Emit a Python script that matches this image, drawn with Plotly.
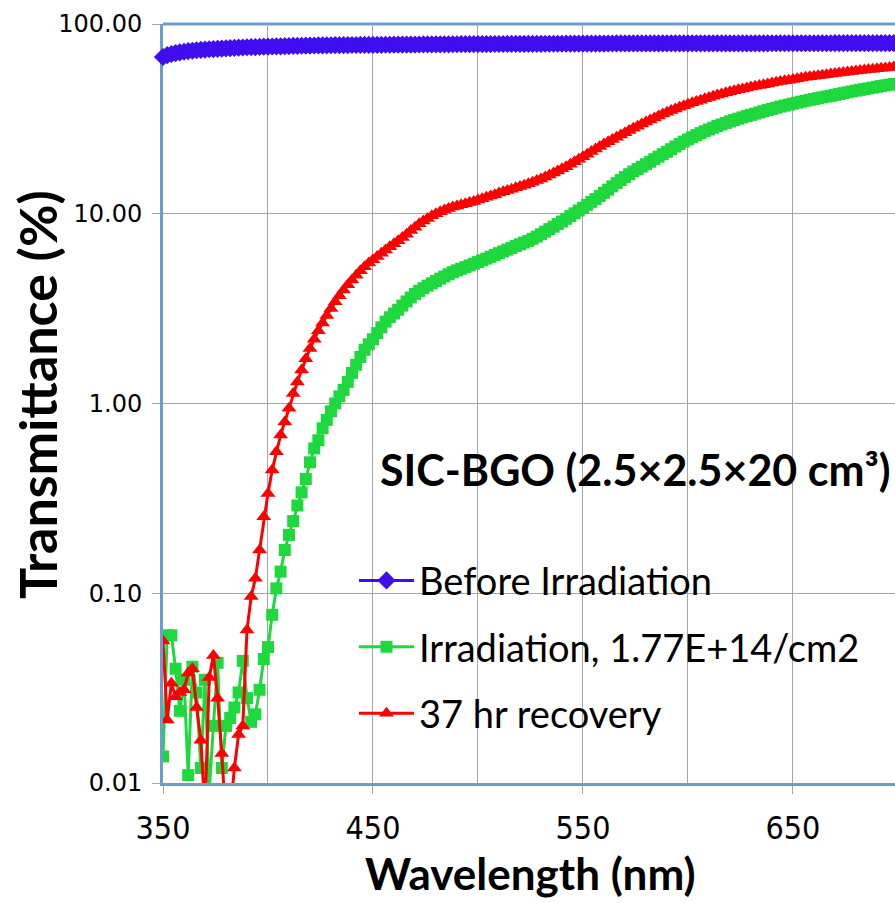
import plotly.graph_objects as go

wavelength = list(range(350, 701, 2))

before = [
    67.0, 68.5, 69.5, 70.3, 70.9, 71.4, 71.9, 72.3, 72.7, 73.0,
    73.3, 73.6, 73.8, 74.0, 74.2, 74.4, 74.6, 74.8, 75.0, 75.2,
    75.4, 75.5, 75.6, 75.75, 75.9, 76.0, 76.1, 76.2, 76.3, 76.4,
    76.5, 76.6, 76.7, 76.8, 76.9, 77.0, 77.05, 77.1, 77.15, 77.2,
    77.25, 77.3, 77.35, 77.4, 77.45, 77.5, 77.52, 77.55, 77.58, 77.6,
    77.62, 77.65, 77.7, 77.72, 77.75, 77.8, 77.82, 77.85, 77.9, 77.92,
    77.95, 78.0, 78.02, 78.05, 78.08, 78.1, 78.12, 78.15, 78.18, 78.2,
    78.22, 78.25, 78.27, 78.3, 78.32, 78.35, 78.37, 78.39, 78.41, 78.43,
    78.45, 78.47, 78.49, 78.51, 78.53, 78.55, 78.57, 78.59, 78.61, 78.63,
    78.65, 78.67, 78.68, 78.69, 78.7, 78.71, 78.72, 78.74, 78.76, 78.78,
    78.8, 78.82, 78.84, 78.86, 78.88, 78.9, 78.92, 78.94, 78.96, 78.98,
    79.0, 79.0, 79.01, 79.01, 79.02, 79.02, 79.03, 79.03, 79.04, 79.04,
    79.05, 79.05, 79.06, 79.06, 79.07, 79.07, 79.08, 79.08, 79.09, 79.09,
    79.1, 79.1, 79.1, 79.11, 79.11, 79.11, 79.12, 79.12, 79.12, 79.13,
    79.13, 79.13, 79.14, 79.14, 79.14, 79.15, 79.15, 79.15, 79.16, 79.16,
    79.16, 79.17, 79.17, 79.17, 79.18, 79.18, 79.18, 79.19, 79.19, 79.19,
    79.2, 79.2, 79.2, 79.2, 79.2, 79.21, 79.21, 79.21, 79.21, 79.22,
    79.22, 79.22, 79.22, 79.23, 79.23, 79.23,
]

irradiated = [
    0.0138, 0.060, 0.060, 0.040, 0.024, 0.035, 0.011, 0.041, 0.030, 0.012,
    0.035, 0.009, 0.020, 0.043, 0.012, 0.020, 0.022, 0.025, 0.030, 0.044,
    0.028, 0.021, 0.023, 0.031, 0.045, 0.052, 0.077, 0.106, 0.130, 0.169,
    0.203, 0.240, 0.290, 0.340, 0.400, 0.490, 0.580, 0.640, 0.740, 0.820,
    0.910, 1.00, 1.09, 1.18, 1.30, 1.45, 1.60, 1.76, 1.92, 2.05,
    2.18, 2.35, 2.52, 2.70, 2.85, 2.98, 3.12, 3.28, 3.45, 3.62,
    3.78, 3.92, 4.05, 4.18, 4.30, 4.42, 4.55, 4.67, 4.80, 4.92,
    5.03, 5.13, 5.23, 5.34, 5.45, 5.56, 5.68, 5.80, 5.93, 6.06,
    6.20, 6.33, 6.47, 6.61, 6.76, 6.90, 7.05, 7.20, 7.38, 7.58,
    7.80, 8.05, 8.30, 8.55, 8.82, 9.10, 9.40, 9.72, 10.05, 10.4,
    10.75, 11.15, 11.55, 11.95, 12.4, 12.9, 13.4, 13.95, 14.5, 15.05,
    15.6, 16.15, 16.7, 17.2, 17.7, 18.25, 18.8, 19.4, 20.0, 20.6,
    21.2, 21.9, 22.6, 23.3, 24.0, 24.65, 25.3, 25.95, 26.6, 27.2,
    27.8, 28.4, 29.0, 29.55, 30.1, 30.65, 31.2, 31.7, 32.2, 32.7,
    33.2, 33.7, 34.2, 34.7, 35.2, 35.7, 36.2, 36.7, 37.15, 37.6,
    38.05, 38.5, 38.95, 39.4, 39.85, 40.25, 40.65, 41.05, 41.45, 41.85,
    42.3, 42.75, 43.2, 43.65, 44.1, 44.55, 45.0, 45.4, 45.8, 46.2,
    46.65, 47.1, 47.5, 47.9, 48.3, 48.7,
]

recovery = [
    0.056, 0.0215, 0.0335, 0.0285, 0.030, 0.031, 0.038, 0.040, 0.025, 0.0168,
    0.007, 0.036, 0.047, 0.028, 0.0143, 0.006, 0.007, 0.012, 0.018, 0.020,
    0.064, 0.096, 0.120, 0.169, 0.253, 0.336, 0.446, 0.557, 0.682, 0.80,
    0.944, 1.13, 1.30, 1.50, 1.72, 1.95, 2.18, 2.42, 2.66, 2.91,
    3.17, 3.44, 3.70, 3.96, 4.22, 4.48, 4.74, 5.00, 5.25, 5.50,
    5.72, 5.95, 6.20, 6.45, 6.70, 6.95, 7.20, 7.50, 7.80, 8.15,
    8.50, 8.85, 9.15, 9.45, 9.75, 10.0, 10.25, 10.45, 10.65, 10.85,
    11.0, 11.15, 11.3, 11.45, 11.6, 11.8, 12.0, 12.2, 12.4, 12.6,
    12.85, 13.05, 13.25, 13.45, 13.7, 13.9, 14.15, 14.4, 14.65, 14.95,
    15.25, 15.6, 16.0, 16.4, 16.8, 17.25, 17.7, 18.25, 18.8, 19.4,
    20.0, 20.6, 21.3, 21.95, 22.6, 23.3, 23.95, 24.6, 25.3, 26.0,
    26.7, 27.45, 28.2, 28.95, 29.7, 30.45, 31.2, 31.95, 32.7, 33.5,
    34.3, 35.0, 35.7, 36.4, 37.1, 37.75, 38.4, 39.05, 39.7, 40.35,
    41.0, 41.6, 42.2, 42.8, 43.4, 43.95, 44.5, 45.0, 45.5, 46.0,
    46.5, 47.0, 47.45, 47.9, 48.35, 48.8, 49.25, 49.7, 50.15, 50.6,
    51.05, 51.5, 51.95, 52.35, 52.7, 53.05, 53.4, 53.75, 54.1, 54.45,
    54.8, 55.15, 55.5, 55.85, 56.2, 56.55, 56.9, 57.2, 57.5, 57.8,
    58.1, 58.4, 58.7, 59.0, 59.3, 59.6,
]

series_names = ["Before Irradiation", "Irradiation, 1.77E+14/cm2", "37 hr recovery"]
y_tick_vals = [0.01, 0.1, 1, 10, 100]
y_tick_text = ["0.01", "0.10", "1.00", "10.00", "100.00"]
x_tick_vals = [350, 450, 550, 650]
x_tick_text = ["350", "450", "550", "650"]

BLUE = "#3F0DF0"
GREEN = "#1ED83E"
RED = "#FF0000"
FRAME = "#6A9BD1"
GRID = "#A6A6A6"
CAL = "Lato, 'Open Sans', sans-serif"

fig = go.Figure()
fig.add_trace(go.Scatter(
    x=wavelength, y=before, name=series_names[0], mode="lines+markers",
    line=dict(color=BLUE, width=3), marker=dict(symbol="diamond", size=14, color=BLUE),
    cliponaxis=False, legendgroup="a",
))
fig.add_trace(go.Scatter(
    x=wavelength, y=irradiated, name=series_names[1], mode="lines+markers",
    line=dict(color=GREEN, width=3), marker=dict(symbol="square", size=12, color=GREEN),
    legendgroup="b",
))
fig.add_trace(go.Scatter(
    x=wavelength, y=recovery, name=series_names[2], mode="lines+markers",
    line=dict(color=RED, width=3), marker=dict(symbol="triangle-up", size=13, color=RED),
    legendgroup="c",
))

fig.update_layout(
    width=895, height=903,
    margin=dict(l=163, r=0, t=24, b=120),
    paper_bgcolor="white", plot_bgcolor="white",
    showlegend=True,
    legend=dict(
        x=(354 - 163) / 732, y=0.308, xanchor="left", yanchor="top",
        font=dict(family=CAL, size=38, color="black"),
        bgcolor="rgba(0,0,0,0)", tracegroupgap=14, itemwidth=55,
    ),
    xaxis=dict(
        range=[350, 698.6], tickvals=x_tick_vals, ticktext=x_tick_text,
        showgrid=True, gridcolor=GRID, gridwidth=1,
        minor=dict(tick0=350, dtick=50, showgrid=True, gridcolor=GRID, gridwidth=1),
        showline=True, linecolor=FRAME, linewidth=3,
        ticks="outside", ticklen=8, tickcolor=GRID, tickwidth=1,
        ticklabelstandoff=7,
        tickfont=dict(family="'Liberation Sans Narrow', 'DejaVu Sans Condensed', sans-serif", size=32, color="black"),
        zeroline=False, layer="below traces",
    ),
    yaxis=dict(
        type="log", range=[-2, 2], tickvals=y_tick_vals, ticktext=y_tick_text,
        showgrid=True, gridcolor=GRID, gridwidth=1,
        showline=True, linecolor=FRAME, linewidth=3,
        ticks="outside", ticklen=8, tickcolor=GRID, tickwidth=1,
        ticklabelstandoff=5,
        tickfont=dict(family="'DejaVu Sans', Verdana, sans-serif", size=24, color="black"),
        zeroline=False, layer="below traces",
    ),
    shapes=[dict(type="line", xref="paper", yref="paper", x0=0, x1=1, y0=1, y1=1,
                 line=dict(color=FRAME, width=3), layer="below")],
    annotations=[
        dict(text="SIC-BGO (2.5×2.5×20 cm³)", xref="paper", yref="paper",
             x=(378 - 163) / 732, y=(783 - 469) / 759, xanchor="left", yanchor="middle",
             showarrow=False, font=dict(family=CAL, size=43, color="black", weight="bold")),
        dict(text="Wavelength (nm)", xref="paper", yref="paper",
             x=(530 - 163) / 732, y=-(873 - 783) / 759, xanchor="center", yanchor="middle",
             showarrow=False, font=dict(family=CAL, size=44, color="black", weight="bold")),
        dict(text="Transmittance (%)", xref="paper", yref="paper", textangle=-90,
             x=-(163 - 37) / 732, y=(783 - 395) / 759, xanchor="center", yanchor="middle",
             showarrow=False, font=dict(family=CAL, size=52, color="black", weight="bold")),
    ],
)

fig.write_html("out.html")
